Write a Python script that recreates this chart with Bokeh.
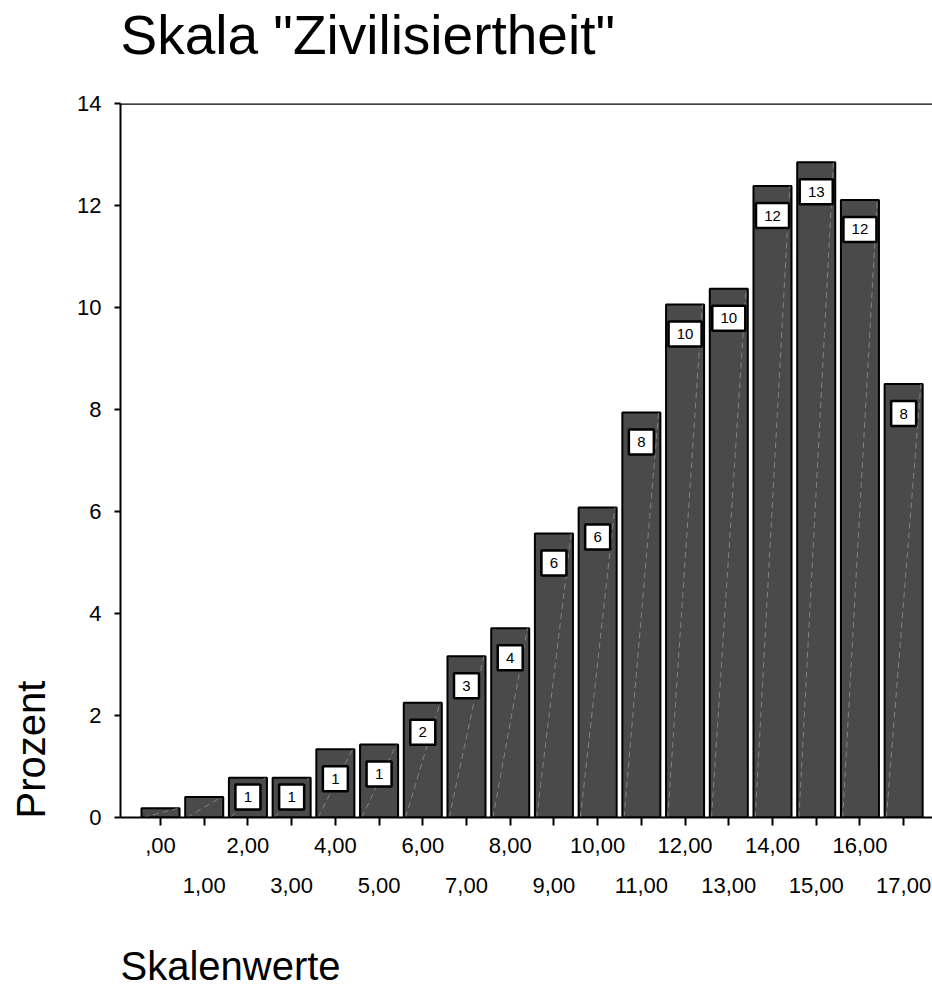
from bokeh.plotting import figure
from bokeh.models import LinearAxis, FixedTicker, Range1d, Span, Title, ColumnDataSource
from bokeh.embed import file_html
from bokeh.resources import INLINE
from bokeh.core.properties import value

# ---------------- data ----------------
scale_values = list(range(18))
tick_labels = [",00", "1,00", "2,00", "3,00", "4,00", "5,00", "6,00", "7,00", "8,00",
               "9,00", "10,00", "11,00", "12,00", "13,00", "14,00", "15,00", "16,00", "17,00"]
percent = [0.18, 0.40, 0.78, 0.78, 1.34, 1.43, 2.25, 3.16, 3.71,
           5.57, 6.08, 7.94, 10.06, 10.37, 12.38, 12.85, 12.11, 8.50]
bar_labels = ["", "", "1", "1", "1", "1", "2", "3", "4",
              "6", "6", "8", "10", "10", "12", "13", "12", "8"]
y_ticks = [0, 2, 4, 6, 8, 10, 12, 14]

title_text = 'Skala "Zivilisiertheit"'
y_title = "Prozent"
x_title = "Skalenwerte"

FONT = "Liberation Sans"

# ---------------- figure ----------------
W, H = 932, 991
FRAME_TOP, FRAME_BOTTOM = 103, 817
p = figure(width=W, height=H, output_backend="svg", toolbar_location=None,
           x_range=Range1d(-0.915, 17.66), y_range=Range1d(0, 14),
           min_border_left=120, min_border_right=0,
           min_border_top=FRAME_TOP, min_border_bottom=H - FRAME_BOTTOM)
p.title.text = ""
p.title.text_font_size = "0px"
p.title.standoff = 0
p.outline_line_color = None
p.xgrid.visible = False
p.ygrid.visible = False
p.background_fill_color = "white"
p.border_fill_color = "white"

px_per_unit_y = (FRAME_BOTTOM - FRAME_TOP) / 14.0

# bars
bar_w = 0.87
src = ColumnDataSource(dict(x=scale_values, top=percent,
                            x0=[v - bar_w / 2 + 0.04 for v in scale_values],
                            x1=[v + bar_w / 2 - 0.04 for v in scale_values]))
p.vbar(x="x", top="top", bottom=0, width=bar_w, source=src,
       fill_color="#4a4a4a", line_color="black", line_width=2)
p.segment(x0="x0", y0=0, x1="x1", y1="top", source=src,
          line_color="#9a9a9a", line_alpha=0.7, line_width=1, line_dash="6 4")

# value boxes
bx, by, bt, bw = [], [], [], []
for xv, v, lab in zip(scale_values, percent, bar_labels):
    if not lab:
        continue
    top_outer = max(v - 16 / px_per_unit_y, 34 / px_per_unit_y)
    bx.append(xv)
    by.append(top_outer - 13.5 / px_per_unit_y)
    bt.append(lab)
    bw.append(25 if len(lab) == 1 else 33)
bsrc = ColumnDataSource(dict(x=bx, y=by, text=bt, w=bw))
p.rect(x="x", y="y", width="w", height=25, width_units="screen", height_units="screen",
       source=bsrc, fill_color="white", line_color="black", line_width=2.5)
p.text(x="x", y="y", text="text", source=bsrc, text_align="center", text_baseline="middle",
       text_font=value(FONT), text_font_size="15px", text_color="black")

# top border line
p.add_layout(Span(location=14, dimension="width", line_color="black", line_width=2.5))

# y axis
ya = p.yaxis[0]
ya.ticker = FixedTicker(ticks=y_ticks)
ya.major_label_text_font = FONT
ya.major_label_text_font_size = "22px"
ya.major_label_text_color = "black"
ya.axis_line_width = 2
ya.axis_line_color = "black"
ya.major_tick_line_width = 2
ya.major_tick_out = 6
ya.major_tick_in = 0
ya.minor_tick_line_color = None
ya.major_label_standoff = 13

# x axis row 1 (even labels)
xa = p.xaxis[0]
xa.ticker = FixedTicker(ticks=scale_values)
xa.major_label_overrides = {v: (lab if v % 2 == 0 else "") for v, lab in zip(scale_values, tick_labels)}
xa.major_label_text_font = FONT
xa.major_label_text_font_size = "22px"
xa.major_label_text_color = "black"
xa.axis_line_width = 2
xa.major_tick_line_width = 2
xa.major_tick_out = 8
xa.major_tick_in = 0
xa.minor_tick_line_color = None
xa.major_label_standoff = 12

# x axis row 2 (odd labels)
odd = [v for v in scale_values if v % 2 == 1]
xa2 = LinearAxis(ticker=FixedTicker(ticks=odd),
                 major_label_overrides={v: tick_labels[v] for v in odd})
xa2.major_label_text_font = FONT
xa2.major_label_text_font_size = "22px"
xa2.major_label_text_color = "black"
xa2.axis_line_color = None
xa2.major_tick_line_color = None
xa2.minor_tick_line_color = None
xa2.major_tick_out = 0
xa2.major_tick_in = 0
xa2.major_label_standoff = 22
p.add_layout(xa2, "below")


def spacer(std):
    return Title(text=" ", text_font_size="10px", standoff=std, text_font=FONT)


# main title (above) with spacer between it and the frame
p.add_layout(spacer(25), "above")
p.add_layout(Title(text=title_text, align="left", text_font=FONT, text_font_size="55px",
                   text_font_style="normal", text_color="black", standoff=0), "above")

# y title (left) with spacer
p.add_layout(spacer(9), "left")
p.add_layout(Title(text=y_title, align="left", text_font=FONT, text_font_size="40px",
                   text_font_style="normal", text_color="black", standoff=0, offset=-1), "left")

# x title (below) with spacer
p.add_layout(spacer(33), "below")
p.add_layout(Title(text=x_title, align="left", text_font=FONT, text_font_size="40px",
                   text_font_style="normal", text_color="black", standoff=0), "below")

open("out.html", "w").write(file_html(p, INLINE))
